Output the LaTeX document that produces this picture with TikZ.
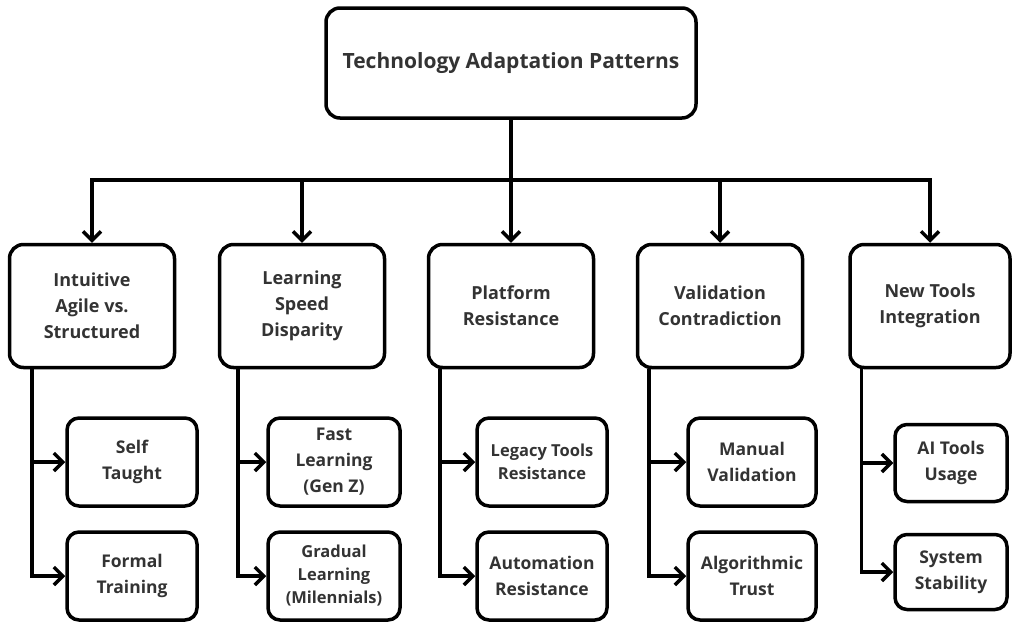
\documentclass[tikz,border=0pt]{standalone}
\usepackage{fontspec}
\setmainfont{Open Sans}
\usetikzlibrary{arrows.meta}

\begin{document}
\begin{tikzpicture}[x=1pt,y=-1pt,
				box/.style={draw,line width=3.5pt,rounded corners=14pt,align=center,inner sep=0pt,
					text=black!80,font=\bfseries\fontsize{18}{26}\selectfont},
				topbox/.style={box,minimum width=370pt,minimum height=110pt,font=\bfseries\fontsize{21}{26}\selectfont},
				catbox/.style={box,minimum width=165pt,minimum height=123pt},
				leaf/.style={box,rounded corners=12pt,minimum width=130pt,minimum height=88pt,
					font=\bfseries\fontsize{17.5}{26}\selectfont},
				small/.style={font=\bfseries\fontsize{16.5}{23}\selectfont},
				arr/.style={line width=3.5pt,-{Straight Barb[length=9pt,width=18pt]}}]
				\useasboundingbox (0,0) rectangle (1012,622);
				\node[topbox] (root) at (511,63) {Technology Adaptation Patterns};
				\node[catbox] (c1) at (92,306) {Intuitive\\Agile vs.\\Structured};
				\node[catbox] (c2) at (302,306) {Learning\\Speed\\Disparity};
				\node[catbox] (c3) at (511,306) {Platform\\Resistance};
				\node[catbox] (c4) at (720,306) {Validation\\Contradiction};
				\node[catbox,minimum width=160pt] (c5) at (930,306) {New Tools\\Integration};
				\node[leaf] (c1a) at (132,462) {Self\\Taught};
				\node[leaf] (c1b) at (132,576) {Formal\\Training};
				\node[leaf,minimum width=132pt] (c2a) at (334,462) {Fast\\Learning\\(Gen Z)};
				\node[leaf,minimum width=132pt,small] (c2b) at (334,576) {Gradual\\Learning\\(Milennials)};
				\node[leaf,small] (c3a) at (542,462) {Legacy Tools\\Resistance};
				\node[leaf] (c3b) at (542,576) {Automation\\Resistance};
				\node[leaf,minimum width=128pt] (c4a) at (752,462) {Manual\\Validation};
				\node[leaf,minimum width=128pt] (c4b) at (752,576) {Algorithmic\\Trust};
				\node[leaf,minimum width=112pt,minimum height=77pt] (c5a) at (951,463) {AI Tools\\Usage};
				\node[leaf,minimum width=112pt,minimum height=75pt] (c5b) at (951,572) {System\\Stability};
				\coordinate (bus) at (511,180);
				\draw[arr] (root.south) -- (bus) -| (c1.north);
				\draw[arr] (bus) -| (c2.north);
				\draw[arr] (bus) -- (c3.north);
				\draw[arr] (bus) -| (c4.north);
				\draw[arr] (bus) -| (c5.north);
				\draw[arr] ([xshift=24pt]c1.south west) |- (c1a.west);
				\draw[arr] ([xshift=24pt]c1.south west) |- (c1b.west);
				\draw[arr] ([xshift=20pt]c2.south west) |- (c2a.west);
				\draw[arr] ([xshift=20pt]c2.south west) |- (c2b.west);
				\draw[arr] ([xshift=13pt]c3.south west) |- (c3a.west);
				\draw[arr] ([xshift=13pt]c3.south west) |- (c3b.west);
				\draw[arr] ([xshift=13pt]c4.south west) |- (c4a.west);
				\draw[arr] ([xshift=13pt]c4.south west) |- (c4b.west);
				\draw[arr] ([xshift=13pt]c5.south west) |- (c5a.west);
				\draw[arr] ([xshift=13pt]c5.south west) |- (c5b.west);
			\end{tikzpicture}
\end{document}
